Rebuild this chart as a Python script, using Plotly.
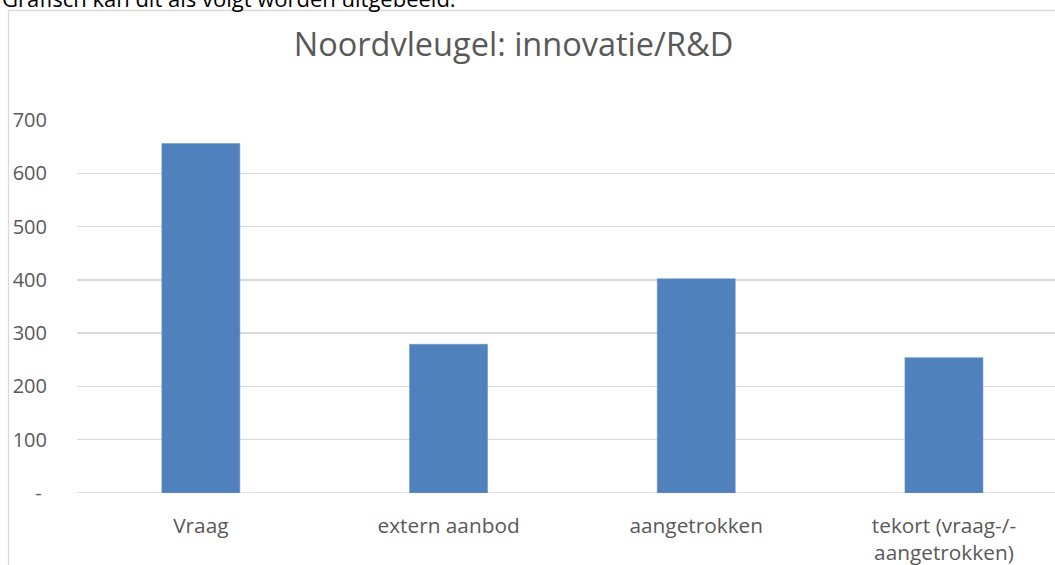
import plotly.graph_objects as go

categories = ["Vraag", "extern aanbod", "aangetrokken", "tekort (vraag-/-<br>aangetrokken)"]
values = [656, 279, 402, 254]
tick_vals = [0, 100, 200, 300, 400, 500, 600, 700]
tick_text = ["-\u00a0", "100", "200", "300", "400", "500", "600", "700"]

W, H = 1055, 565
ML, MR, MT, MB = 77, 0, 120, 72
PW = W - ML - MR
PH = H - MT - MB

def px(x):
    return (x - ML) / PW

def py(y):
    return (H - MB - y) / PH

FONT = "Open Sans"
GREY = "#595959"

fig = go.Figure()
fig.add_trace(go.Bar(
    x=list(range(len(categories))),
    y=values,
    marker=dict(color="#4f81bd", line=dict(color="#6f97c9", width=0.6)),
    hoverinfo="skip",
))

fig.update_layout(
    width=W, height=H,
    margin=dict(l=ML, r=MR, t=MT, b=MB, pad=0),
    paper_bgcolor="white", plot_bgcolor="white",
    bargap=0.685,
    showlegend=False,
    font=dict(family=FONT, color=GREY, size=20),
    title=dict(
        text="Noordvleugel: innovatie/R&D",
        x=513.5 / W, xanchor="center", xref="container",
        y=1 - 45 / H, yanchor="middle", yref="container",
        font=dict(family=FONT, size=32.5, color=GREY),
    ),
    xaxis=dict(
        tickmode="array",
        tickvals=list(range(len(categories))),
        ticktext=categories,
        range=[-0.5, (W - ML) / 247.7 - 0.5],
        showgrid=False, zeroline=False, showline=False,
        ticks="", ticklabelstandoff=18,
        tickfont=dict(family=FONT, size=20.8, color=GREY),
        fixedrange=True,
    ),
    yaxis=dict(
        range=[0, 700],
        tickmode="array", tickvals=tick_vals, ticktext=tick_text,
        showgrid=True, gridcolor="#d9d9d9", gridwidth=1.3,
        zeroline=False, showline=False,
        ticks="", ticklabelstandoff=29,
        tickfont=dict(family=FONT, size=20, color=GREY),
        fixedrange=True,
    ),
)

# baseline at 0 (Excel category axis line)
fig.add_shape(type="line", xref="paper", yref="y", x0=0, x1=1, y0=0, y1=0,
              line=dict(color="#d9d9d9", width=1.3), layer="below")

# chart area border (left and top edges visible)
fig.add_shape(type="line", xref="paper", yref="paper",
              x0=px(8.5), x1=px(8.5), y0=py(10.5), y1=py(600),
              line=dict(color="#d9d9d9", width=1.3))
fig.add_shape(type="line", xref="paper", yref="paper",
              x0=px(8.5), x1=px(1100), y0=py(10.5), y1=py(10.5),
              line=dict(color="#d9d9d9", width=1.3))

# cut-off document text above chart
fig.add_annotation(
    text="Grafisch kan dit als volgt worden uitgebeeld:",
    xref="paper", yref="paper", x=px(0), y=py(-1.5),
    xanchor="left", yanchor="middle", showarrow=False,
    font=dict(family=FONT, size=22, color="#000000"),
)

fig.write_html(
    "out.html",
    config={"displayModeBar": False, "staticPlot": True},
    post_script="document.body.style.margin='0';document.body.style.overflow='hidden';",
)
